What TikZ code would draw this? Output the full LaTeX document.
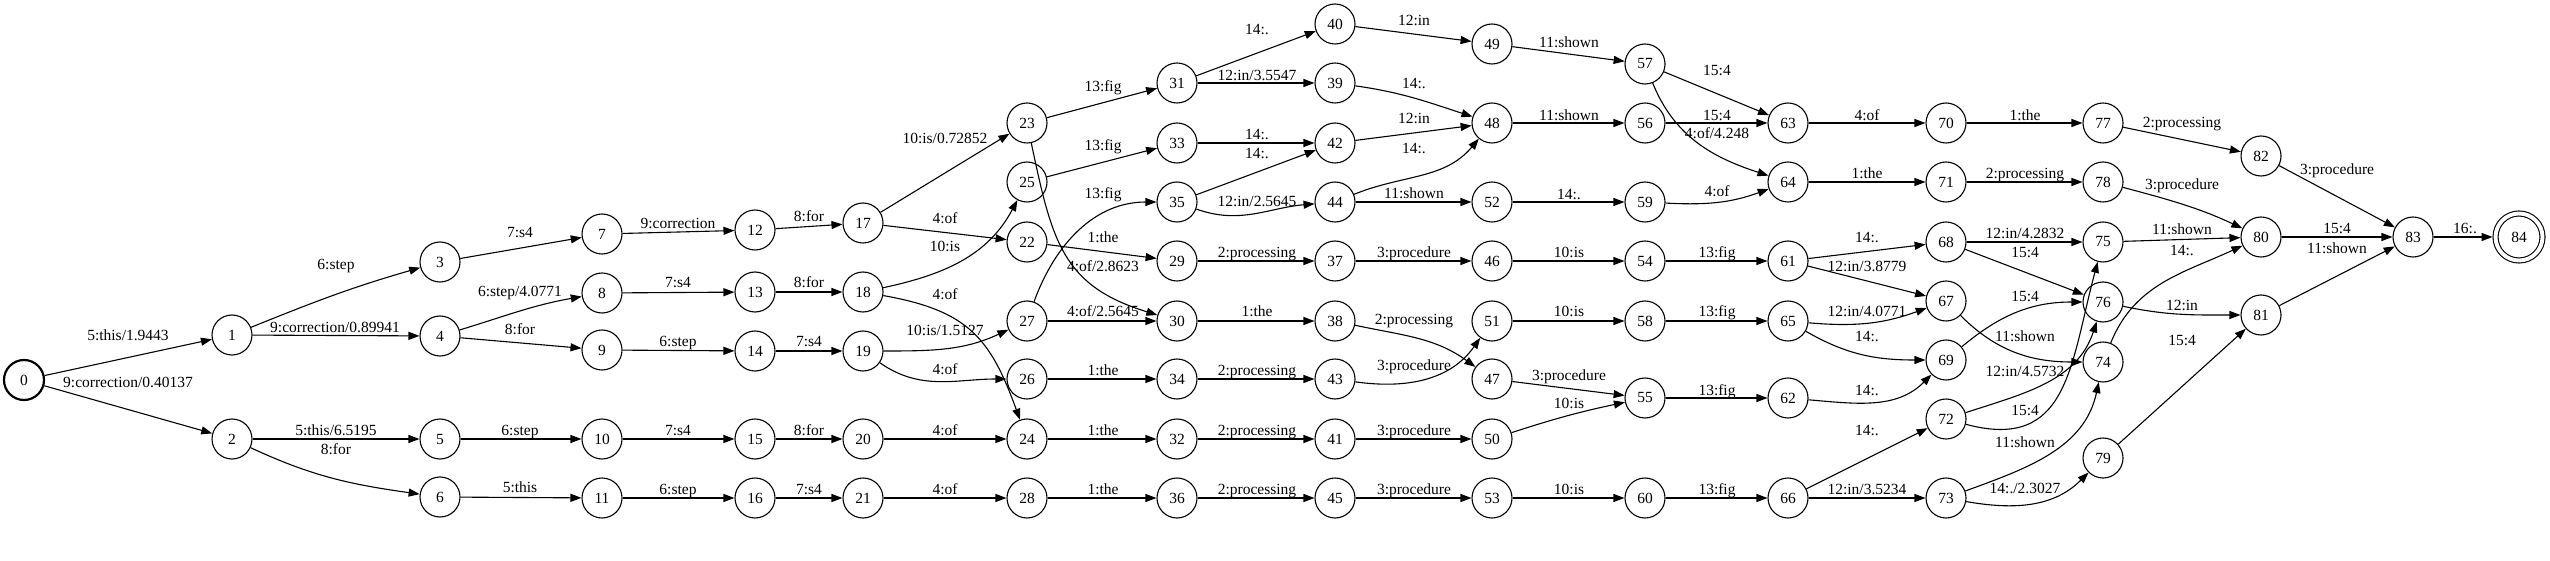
\documentclass[tikz,border=0pt]{standalone}
\usepackage{fontspec}
\setmainfont{Liberation Serif}
\usetikzlibrary{arrows.meta}
\newcommand\gvfont{\fontsize{15.5}{18}\selectfont}
\begin{document}
\begin{tikzpicture}[x=1pt,y=1pt,
  st/.style={circle,draw,line width=1.1pt,minimum size=40pt,inner sep=0pt,font=\gvfont},
  e/.style={-{Triangle[length=11pt,width=8pt]},line width=1.1pt},
  lab/.style={inner sep=0pt,font=\gvfont,text height=0.68em,text depth=0pt}]
\path[fill=white,use as bounding box] (0,0) rectangle (2550,560);
% states
\node[st,line width=2.2pt] (n0) at (24,180) {0};
\node[st] (n1) at (232,225) {1};
\node[st] (n2) at (232,121) {2};
\node[st] (n3) at (440,298) {3};
\node[st] (n4) at (440,224) {4};
\node[st] (n5) at (440,121) {5};
\node[st] (n6) at (440,63) {6};
\node[st] (n7) at (602,326) {7};
\node[st] (n8) at (602,267) {8};
\node[st] (n9) at (602,210) {9};
\node[st] (n10) at (602,121) {10};
\node[st] (n11) at (602,62) {11};
\node[st] (n12) at (755,330) {12};
\node[st] (n13) at (755,268) {13};
\node[st] (n14) at (755,209) {14};
\node[st] (n15) at (755,121) {15};
\node[st] (n16) at (755,62) {16};
\node[st] (n17) at (863,337) {17};
\node[st] (n18) at (863,268) {18};
\node[st] (n19) at (863,209) {19};
\node[st] (n20) at (863,121) {20};
\node[st] (n21) at (863,62) {21};
\node[st] (n23) at (1027,437) {23};
\node[st] (n25) at (1027,378) {25};
\node[st] (n22) at (1027,318) {22};
\node[st] (n27) at (1027,239) {27};
\node[st] (n26) at (1027,181) {26};
\node[st] (n24) at (1027,121) {24};
\node[st] (n28) at (1027,62) {28};
\node[st] (n31) at (1177,477) {31};
\node[st] (n33) at (1177,417) {33};
\node[st] (n35) at (1177,358) {35};
\node[st] (n29) at (1177,299) {29};
\node[st] (n30) at (1177,239) {30};
\node[st] (n34) at (1177,181) {34};
\node[st] (n32) at (1177,121) {32};
\node[st] (n36) at (1177,62) {36};
\node[st] (n40) at (1335,536) {40};
\node[st] (n39) at (1335,477) {39};
\node[st] (n42) at (1335,417) {42};
\node[st] (n44) at (1335,358) {44};
\node[st] (n37) at (1335,299) {37};
\node[st] (n38) at (1335,239) {38};
\node[st] (n43) at (1335,181) {43};
\node[st] (n41) at (1335,121) {41};
\node[st] (n45) at (1335,62) {45};
\node[st] (n49) at (1492,516) {49};
\node[st] (n48) at (1492,437) {48};
\node[st] (n52) at (1492,358) {52};
\node[st] (n46) at (1492,299) {46};
\node[st] (n51) at (1492,239) {51};
\node[st] (n47) at (1492,181) {47};
\node[st] (n50) at (1492,121) {50};
\node[st] (n53) at (1492,62) {53};
\node[st] (n57) at (1645,496) {57};
\node[st] (n56) at (1645,437) {56};
\node[st] (n59) at (1645,358) {59};
\node[st] (n54) at (1645,299) {54};
\node[st] (n58) at (1645,239) {58};
\node[st] (n55) at (1645,162) {55};
\node[st] (n60) at (1645,62) {60};
\node[st] (n63) at (1788,437) {63};
\node[st] (n64) at (1788,378) {64};
\node[st] (n61) at (1788,299) {61};
\node[st] (n65) at (1788,239) {65};
\node[st] (n62) at (1788,162) {62};
\node[st] (n66) at (1788,62) {66};
\node[st] (n70) at (1946,437) {70};
\node[st] (n71) at (1946,378) {71};
\node[st] (n68) at (1946,318) {68};
\node[st] (n67) at (1946,259) {67};
\node[st] (n69) at (1946,200) {69};
\node[st] (n72) at (1946,141) {72};
\node[st] (n73) at (1946,62) {73};
\node[st] (n77) at (2103,437) {77};
\node[st] (n78) at (2103,378) {78};
\node[st] (n75) at (2103,318) {75};
\node[st] (n76) at (2103,258) {76};
\node[st] (n74) at (2103,198) {74};
\node[st] (n79) at (2103,102) {79};
\node[st] (n82) at (2261,404) {82};
\node[st] (n80) at (2261,323) {80};
\node[st] (n81) at (2261,245) {81};
\node[st] (n83) at (2413,323) {83};
\node[st,double,double distance=3.9pt,minimum size=47pt,outer sep=3pt] (n84) at (2519,323) {84};
% arcs
\draw[e] (n0) -- (n1) node[lab,at={(128,223)}] {5:this/1.9443};
\draw[e] (n0) -- (n2) node[lab,at={(128,176)}] {9:correction/0.40137};
\draw[e] (n1) to[out=22,in=196] (n3) node[lab,at={(336,294)}] {6:step};
\draw[e] (n1) -- (n4) node[lab,at={(335,231)}] {9:correction/0.89941};
\draw[e] (n2) -- (n5) node[lab,at={(336,128)}] {5:this/6.5195};
\draw[e] (n2) to[out=-25,in=172] (n6) node[lab,at={(336,109)}] {8:for};
\draw[e] (n3) -- (n7) node[lab,at={(520,326)}] {7:s4};
\draw[e] (n4) to[out=17,in=190] (n8) node[lab,at={(520,267)}] {6:step/4.0771};
\draw[e] (n4) -- (n9) node[lab,at={(520,229)}] {8:for};
\draw[e] (n5) -- (n10) node[lab,at={(520,128)}] {6:step};
\draw[e] (n6) -- (n11) node[lab,at={(520,71)}] {5:this};
\draw[e] (n7) -- (n12) node[lab,at={(678,335)}] {9:correction};
\draw[e] (n8) -- (n13) node[lab,at={(678,276)}] {7:s4};
\draw[e] (n9) -- (n14) node[lab,at={(678,217)}] {6:step};
\draw[e] (n10) -- (n15) node[lab,at={(678,128)}] {7:s4};
\draw[e] (n11) -- (n16) node[lab,at={(678,69)}] {6:step};
\draw[e] (n12) -- (n17) node[lab,at={(809,342)}] {8:for};
\draw[e] (n13) -- (n18) node[lab,at={(809,276)}] {8:for};
\draw[e] (n14) -- (n19) node[lab,at={(809,217)}] {7:s4};
\draw[e] (n15) -- (n20) node[lab,at={(809,128)}] {8:for};
\draw[e] (n16) -- (n21) node[lab,at={(809,69)}] {7:s4};
\draw[e] (n17) -- (n23) node[lab,at={(945,420)}] {10:is/0.72852};
\draw[e] (n17) -- (n22) node[lab,at={(945,340)}] {4:of};
\draw[e] (n18) to[out=12,in=242] (n25) node[lab,at={(945,312)}] {10:is};
\draw[e] (n18) to[out=-10,in=110,looseness=1.2] (n24) node[lab,at={(945,264)}] {4:of};
\draw[e] (n19) to[out=0,in=205] (n27) node[lab,at={(945,228)}] {10:is/1.5127};
\draw[e] (n19) to[out=-35,in=180] (n26) node[lab,at={(945,189)}] {4:of};
\draw[e] (n20) -- (n24) node[lab,at={(945,128)}] {4:of};
\draw[e] (n21) -- (n28) node[lab,at={(945,69)}] {4:of};
\draw[e] (n23) -- (n31) node[lab,at={(1103,472)}] {13:fig};
\draw[e] (n25) -- (n33) node[lab,at={(1103,413)}] {13:fig};
\draw[e] (n27) to[out=70,in=180] (n35) node[lab,at={(1103,365)}] {13:fig};
\draw[e] (n22) -- (n29) node[lab,at={(1103,321)}] {1:the};
\draw[e] (n23) to[out=-78,in=163,looseness=1.2] (n30) node[lab,at={(1103,292)}] {4:of/2.8623};
\draw[e] (n27) -- (n30) node[lab,at={(1103,247)}] {4:of/2.5645};
\draw[e] (n26) -- (n34) node[lab,at={(1103,188)}] {1:the};
\draw[e] (n24) -- (n32) node[lab,at={(1103,128)}] {1:the};
\draw[e] (n28) -- (n36) node[lab,at={(1103,69)}] {1:the};
\draw[e] (n31) -- (n40) node[lab,at={(1257,529)}] {14:.};
\draw[e] (n31) -- (n39) node[lab,at={(1257,483)}] {12:in/3.5547};
\draw[e] (n33) -- (n42) node[lab,at={(1257,424)}] {14:.};
\draw[e] (n35) -- (n42) node[lab,at={(1257,405)}] {14:.};
\draw[e] (n35) to[out=-20,in=185] (n44) node[lab,at={(1257,357)}] {12:in/2.5645};
\draw[e] (n29) -- (n37) node[lab,at={(1257,306)}] {2:processing};
\draw[e] (n30) -- (n38) node[lab,at={(1257,247)}] {1:the};
\draw[e] (n34) -- (n43) node[lab,at={(1257,188)}] {2:processing};
\draw[e] (n32) -- (n41) node[lab,at={(1257,128)}] {2:processing};
\draw[e] (n36) -- (n45) node[lab,at={(1257,69)}] {2:processing};
\draw[e] (n40) -- (n49) node[lab,at={(1414,538)}] {12:in};
\draw[e] (n39) to[out=-8,in=162] (n48) node[lab,at={(1414,475)}] {14:.};
\draw[e] (n42) -- (n48) node[lab,at={(1414,440)}] {12:in};
\draw[e] (n44) to[out=22,in=230] (n48) node[lab,at={(1414,410)}] {14:.};
\draw[e] (n44) -- (n52) node[lab,at={(1414,365)}] {11:shown};
\draw[e] (n37) -- (n46) node[lab,at={(1414,306)}] {3:procedure};
\draw[e] (n38) to[out=-12,in=144] (n47) node[lab,at={(1414,239)}] {2:processing};
\draw[e] (n43) to[out=-8,in=235] (n51) node[lab,at={(1414,193)}] {3:procedure};
\draw[e] (n41) -- (n50) node[lab,at={(1414,128)}] {3:procedure};
\draw[e] (n45) -- (n53) node[lab,at={(1414,69)}] {3:procedure};
\draw[e] (n49) -- (n57) node[lab,at={(1569,516)}] {11:shown};
\draw[e] (n48) -- (n56) node[lab,at={(1569,443)}] {11:shown};
\draw[e] (n52) -- (n59) node[lab,at={(1569,364)}] {14:.};
\draw[e] (n46) -- (n54) node[lab,at={(1569,306)}] {10:is};
\draw[e] (n51) -- (n58) node[lab,at={(1569,247)}] {10:is};
\draw[e] (n47) -- (n55) node[lab,at={(1569,183)}] {3:procedure};
\draw[e] (n50) to[out=18,in=192] (n55) node[lab,at={(1569,155)}] {10:is};
\draw[e] (n53) -- (n60) node[lab,at={(1569,69)}] {10:is};
\draw[e] (n57) -- (n63) node[lab,at={(1717,488)}] {15:4};
\draw[e] (n56) -- (n63) node[lab,at={(1717,443)}] {15:4};
\draw[e] (n57) to[out=-68,in=162] (n64) node[lab,at={(1717,425)}] {4:of/4.248};
\draw[e] (n59) to[out=-3,in=200] (n64) node[lab,at={(1717,367)}] {4:of};
\draw[e] (n54) -- (n61) node[lab,at={(1717,306)}] {13:fig};
\draw[e] (n58) -- (n65) node[lab,at={(1717,247)}] {13:fig};
\draw[e] (n55) -- (n62) node[lab,at={(1717,168)}] {13:fig};
\draw[e] (n60) -- (n66) node[lab,at={(1717,69)}] {13:fig};
\draw[e] (n63) -- (n70) node[lab,at={(1867,443)}] {4:of};
\draw[e] (n64) -- (n71) node[lab,at={(1867,385)}] {1:the};
\draw[e] (n61) -- (n68) node[lab,at={(1867,321)}] {14:.};
\draw[e] (n61) -- (n67) node[lab,at={(1867,292)}] {12:in/3.8779};
\draw[e] (n65) to[out=-5,in=200] (n67) node[lab,at={(1867,247)}] {12:in/4.0771};
\draw[e] (n65) to[out=-30,in=180] (n69) node[lab,at={(1867,222)}] {14:.};
\draw[e] (n62) to[out=-5,in=225] (n69) node[lab,at={(1867,168)}] {14:.};
\draw[e] (n66) -- (n72) node[lab,at={(1867,128)}] {14:.};
\draw[e] (n66) -- (n73) node[lab,at={(1867,69)}] {12:in/3.5234};
\draw[e] (n70) -- (n77) node[lab,at={(2025,443)}] {1:the};
\draw[e] (n71) -- (n78) node[lab,at={(2025,385)}] {2:processing};
\draw[e] (n68) -- (n75) node[lab,at={(2025,325)}] {12:in/4.2832};
\draw[e] (n68) -- (n76) node[lab,at={(2025,306)}] {15:4};
\draw[e] (n69) to[out=40,in=180] (n76) node[lab,at={(2025,262)}] {15:4};
\draw[e] (n67) to[out=-45,in=180] (n74) node[lab,at={(2025,222)}] {11:shown};
\draw[e] (n72) to[out=18,in=252] (n76) node[lab,at={(2025,187)}] {12:in/4.5732};
\draw[e] (n72) to[out=-15,in=255,looseness=1.3] (n75) node[lab,at={(2025,148)}] {15:4};
\draw[e] (n73) to[out=20,in=258] (n74) node[lab,at={(2025,116)}] {11:shown};
\draw[e] (n73) to[out=-10,in=225] (n79) node[lab,at={(2025,70)}] {14:./2.3027};
\draw[e] (n77) -- (n82) node[lab,at={(2182,436)}] {2:processing};
\draw[e] (n78) to[out=-15,in=155] (n80) node[lab,at={(2182,374)}] {3:procedure};
\draw[e] (n75) -- (n80) node[lab,at={(2182,329)}] {11:shown};
\draw[e] (n74) to[out=68,in=205] (n80) node[lab,at={(2182,308)}] {14:.};
\draw[e] (n76) to[out=-12,in=180] (n81) node[lab,at={(2182,253)}] {12:in};
\draw[e] (n79) -- (n81) node[lab,at={(2182,218)}] {15:4};
\draw[e] (n82) -- (n83) node[lab,at={(2337,389)}] {3:procedure};
\draw[e] (n80) -- (n83) node[lab,at={(2337,330)}] {15:4};
\draw[e] (n81) -- (n83) node[lab,at={(2337,310)}] {11:shown};
\draw[e] (n83) -- (n84) node[lab,at={(2465,330)}] {16:.};
\end{tikzpicture}
\end{document}
